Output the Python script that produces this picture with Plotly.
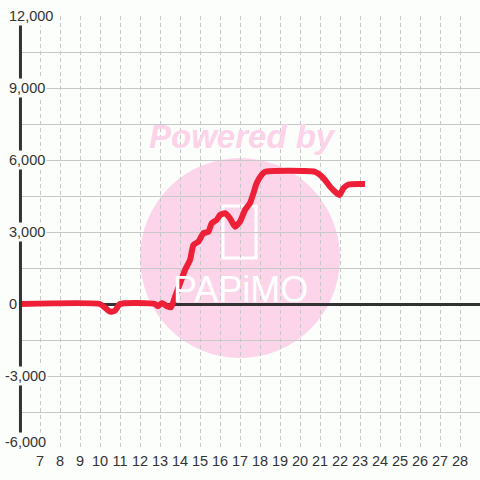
import plotly.graph_objects as go

# ---- data ----
days = [6.0, 10.0, 10.25, 10.5, 10.75, 11.0, 12.75, 12.9, 13.1, 13.35, 13.55,
        13.75, 14.0, 14.25, 14.5, 14.67, 14.92, 15.17, 15.42, 15.58, 15.83,
        16.0, 16.25, 16.5, 16.75, 17.0, 17.25, 17.5, 17.67, 17.83, 18.08,
        18.25, 20.75, 21.0, 21.25, 21.5, 21.75, 21.97, 22.17, 22.42, 23.25]
values = [0, 0, -150, -320, -280, 0, 0, -90, 40, -90, -140,
          300, 860, 1420, 1830, 2460, 2600, 2950, 3010, 3360, 3500,
          3710, 3780, 3570, 3220, 3430, 3920, 4200, 4610, 5030, 5380,
          5510, 5510, 5380, 5170, 4890, 4680, 4540, 4820, 4980, 5000]

x_ticks = [7, 8, 9, 10, 11, 12, 13, 14, 15, 16, 17, 18, 19, 20, 21, 22, 23,
           24, 25, 26, 27, 28]
x_tick_labels = [str(v) for v in x_ticks]
y_grid = [-6000, -4500, -3000, -1500, 0, 1500, 3000, 4500, 6000, 7500, 9000,
          10500, 12000]
y_label_vals = [-6000, -3000, 0, 3000, 6000, 9000, 12000]
y_label_text = ["-6,000", "-3,000", "0", "3,000", "6,000", "9,000", "12,000"]

BG = "#fcfefc"
FONT = "Liberation Sans, Arial, sans-serif"

# plot area in page px: x 20..480, y 16..448
PL, PR, PT, PB = 20, 480, 16, 448


def px_x(p):
    return (p - PL) / (PR - PL)


def px_y(p):
    return (PB - p) / (PB - PT)


fig = go.Figure()
fig.add_trace(go.Scatter(
    x=days, y=values, mode="lines",
    line=dict(color="#ee2037", width=6, shape="spline", smoothing=0.5),
    hoverinfo="skip", showlegend=False,
))

# watermark circle
fig.add_shape(type="circle", xref="paper", yref="paper",
              x0=px_x(140), x1=px_x(340), y0=px_y(358), y1=px_y(158),
              fillcolor="#fcd5ea", line=dict(width=0), layer="below")
# phone outline of logo
fig.add_shape(type="rect", xref="paper", yref="paper",
              x0=px_x(223), x1=px_x(256), y0=px_y(258), y1=px_y(206),
              line=dict(color="white", width=3), fillcolor="rgba(0,0,0,0)",
              layer="below")

annotations = [
    dict(text="<b><i>Powered by</i></b>", xref="paper", yref="paper",
         x=px_x(242), y=px_y(136), showarrow=False,
         font=dict(family=FONT, size=33, color="#fcd3e8"),
         xanchor="center", yanchor="middle"),
    dict(text="PAPiMO", xref="paper", yref="paper",
         x=px_x(240), y=px_y(289), showarrow=False,
         font=dict(family=FONT, size=36, color="white"),
         xanchor="center", yanchor="middle"),
]
y_min = min(y_label_vals)
for v, t in zip(y_label_vals, y_label_text):
    left_px = 3 if v < 0 else 7
    annotations.append(dict(
        text=t, xref="paper", yref="y", x=px_x(left_px), y=v,
        showarrow=False, xanchor="left", yanchor="middle",
        yshift=6 if v == y_min else 0,
        bgcolor=BG, borderpad=1,
        font=dict(family=FONT, size=14.5, color="#333333")))

# y axis line
fig.add_shape(type="line", xref="paper", yref="paper", x0=0.001, x1=0.001,
              y0=0, y1=1, line=dict(color="#333333", width=3), layer="above")

fig.update_layout(
    width=480, height=480,
    margin=dict(l=PL, r=480 - PR, t=PT, b=480 - PB),
    paper_bgcolor=BG, plot_bgcolor=BG,
    font=dict(family=FONT, size=14.5, color="#333333"),
    annotations=annotations,
    xaxis=dict(range=[6, 29], tickvals=x_ticks, ticktext=x_tick_labels,
               showgrid=True, gridcolor="#c8c8c8", gridwidth=1,
               griddash="4px,3px", zeroline=False, showline=False,
               ticks="", ticklabelstandoff=2,
               tickfont=dict(family=FONT, size=14.5, color="#333333")),
    yaxis=dict(range=[-6000, 12000], tickvals=y_grid, showticklabels=False,
               showgrid=True, gridcolor="#c8c8c8", gridwidth=1,
               zeroline=True, zerolinecolor="#333333", zerolinewidth=3,
               showline=False, ticks=""),
)

fig.write_html(
    "out.html",
    config={"displayModeBar": False, "staticPlot": True},
    post_script="document.body.style.margin='0';"
                "document.body.style.overflow='hidden';",
)
